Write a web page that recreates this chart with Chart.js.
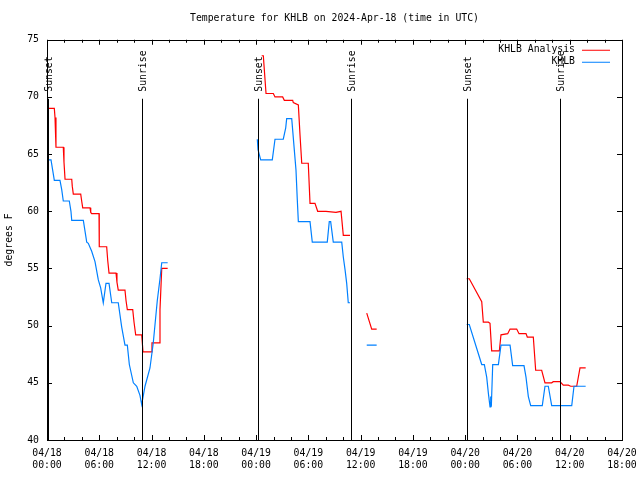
<!DOCTYPE html>
<html>
<head>
<meta charset="utf-8">
<script src="https://cdn.jsdelivr.net/npm/chart.js@4.4.1/dist/chart.umd.min.js"></script>
<style>
  html, body { margin: 0; padding: 0; background: #fff; }
  #wrap { width: 640px; height: 480px; }
</style>
</head>
<body>
<div id="wrap"><canvas id="chart"></canvas></div>
<script>
const FONT = "'DejaVu Sans Mono', 'Liberation Mono', monospace";
const FONT_SIZE = 9.8;

// hours since 04/18 00:00 UTC, null temp = gap in the record
const analysisHours = [0.15, 0.84, 0.92, 1.03, 1.87, 1.95, 2.07, 2.84, 2.90, 3.02, 3.87, 3.98, 4.10, 4.94, 5.02, 5.13, 5.97, 6.00, 6.85, 6.97,
  7.12, 7.92, 8.03, 8.18, 8.95, 9.07, 9.22, 9.84, 9.99, 10.18, 10.87, 10.94, 11.02, 11.94, 12.05, 12.20, 12.89, 12.97, 13.17, 13.85,
  14.0,
  24.64, 24.83, 25.14, 25.98, 26.17, 27.05, 27.24, 28.20, 28.27, 28.85, 29.04, 29.24, 29.99, 30.19, 30.76, 31.07, 32.02, 33.17, 33.75, 34.01, 34.78,
  35.5,
  36.70, 37.27, 37.84,
  40.0,
  48.17, 48.47, 49.90, 50.08, 50.66, 50.85, 51.04, 51.92, 52.11, 52.88, 53.15, 53.91, 54.18, 54.98, 55.13, 55.82, 56.09, 56.78, 57.16, 57.93,
  58.11, 58.88, 59.26, 59.84, 60.11, 60.80, 61.18, 61.83];
const analysisTemps = [69.0, 69.0, 68.2, 65.6, 65.6, 64.3, 62.8, 62.8, 62.2, 61.5, 61.5, 60.9, 60.3, 60.3, 59.9, 59.8, 59.8, 56.9, 56.9, 55.7,
  54.6, 54.6, 53.8, 53.1, 53.1, 52.2, 51.4, 51.4, 50.3, 49.2, 49.2, 48.5, 47.7, 47.7, 48.5, 48.5, 48.5, 51.4, 55.0, 55.0,
  null,
  73.6, 73.6, 70.3, 70.3, 70.0, 70.0, 69.7, 69.7, 69.5, 69.3, 66.7, 64.2, 64.2, 60.7, 60.7, 60.0, 60.0, 59.9, 60.0, 57.9, 57.9,
  null,
  51.1, 49.7, 49.7,
  null,
  54.1, 54.1, 52.1, 50.3, 50.3, 50.2, 47.8, 47.8, 49.2, 49.3, 49.7, 49.7, 49.3, 49.3, 49.0, 49.0, 46.1, 46.1, 45.0, 45.0,
  45.1, 45.1, 44.8, 44.8, 44.7, 44.7, 46.3, 46.3];

const obsHours = [0.15, 0.46, 0.65, 0.84, 1.49, 1.69, 1.87, 2.56, 2.75, 2.84, 4.17, 4.56, 4.74, 5.13, 5.51, 5.89, 6.16, 6.46, 6.77, 7.12,
  7.43, 8.18, 8.57, 8.95, 9.22, 9.45, 9.91, 10.30, 10.67, 10.87, 11.25, 11.82, 12.20, 12.66, 12.97, 13.17, 13.85,
  14.0,
  24.14, 24.22, 24.53, 25.86, 26.17, 27.12, 27.40, 27.51, 28.09, 28.35, 28.58, 28.73, 28.85, 30.19, 30.45, 32.17, 32.40, 32.56, 32.86, 33.83,
  34.01, 34.21, 34.40, 34.58, 34.78,
  35.5,
  36.70, 37.84,
  40.0,
  48.17, 48.47, 49.90, 50.20, 50.47, 50.66, 50.85, 50.93, 51.00, 51.16, 51.81, 52.11, 53.15, 53.45, 54.75, 54.98, 55.25, 55.52, 56.85, 57.16,
  57.54, 57.93, 60.23, 60.49, 61.83];
const obsTemps = [64.5, 64.5, 63.6, 62.7, 62.7, 61.9, 60.9, 60.9, 60.0, 59.2, 59.2, 57.3, 57.2, 56.5, 55.6, 54.0, 53.3, 52.0, 53.7, 53.7,
  52.0, 52.0, 49.9, 48.3, 48.3, 46.6, 45.0, 44.7, 43.9, 43.1, 44.7, 46.3, 48.5, 52.2, 54.1, 55.5, 55.5,
  null,
  66.3, 65.4, 64.5, 64.5, 66.3, 66.3, 67.3, 68.1, 68.1, 65.7, 63.6, 61.0, 59.1, 59.1, 57.3, 57.3, 59.1, 59.1, 57.3, 57.3,
  56.0, 54.9, 53.7, 52.0, 52.0,
  null,
  48.3, 48.3,
  null,
  50.1, 50.1, 46.6, 46.6, 45.5, 44.1, 42.9, 43.8, 42.9, 46.6, 46.6, 48.3, 48.3, 46.5, 46.5, 45.5, 43.8, 43.0, 43.0, 44.7,
  44.7, 43.0, 43.0, 44.7, 44.7];

const sunHours = [0.17, 10.90, 24.22, 34.89, 48.22, 58.88];
const sunLabels = ['Sunset', 'Sunrise', 'Sunset', 'Sunrise', 'Sunset', 'Sunrise'];

const xTickDays = ['04/18', '04/18', '04/18', '04/18', '04/19', '04/19', '04/19', '04/19', '04/20', '04/20', '04/20', '04/20'];
const xTickTimes = ['00:00', '06:00', '12:00', '18:00', '00:00', '06:00', '12:00', '18:00', '00:00', '06:00', '12:00', '18:00'];

const seriesNames = ['KHLB Analysis', 'KHLB'];
const seriesColors = ['#ff0000', '#0080ff'];

function toPoints(hours, temps) {
  return hours.map((h, i) => ({ x: h, y: temps[i] }));
}

// frame, inward tics, sunrise/sunset markers and the legend, gnuplot style
const gnuplotDecor = {
  id: 'gnuplotDecor',
  afterDatasetsDraw(chart) {
    const { ctx, chartArea: a, scales: { x, y } } = chart;
    ctx.save();
    ctx.strokeStyle = '#000';
    ctx.lineWidth = 1;

    ctx.font = `${FONT_SIZE}px ${FONT}`;
    ctx.fillStyle = '#000';
    sunHours.forEach((h, i) => {
      const px = Math.round(x.getPixelForValue(h)) + 0.5;
      ctx.beginPath();
      ctx.moveTo(px, a.top + 59);
      ctx.lineTo(px, a.bottom);
      ctx.stroke();
      ctx.save();
      ctx.translate(px + 1, a.top + 52);
      ctx.rotate(-Math.PI / 2);
      ctx.textAlign = 'left';
      ctx.textBaseline = 'middle';
      ctx.fillText(sunLabels[i], 0, 0);
      ctx.restore();
    });

    ctx.strokeRect(Math.round(a.left) + 0.5, Math.round(a.top) + 0.5,
      Math.round(a.right - a.left), Math.round(a.bottom - a.top));

    ctx.beginPath();
    for (let h = x.min; h <= x.max; h += 2) {
      const px = Math.round(x.getPixelForValue(h)) + 0.5;
      const len = h % 6 === 0 ? 5 : 3;
      ctx.moveTo(px, a.bottom);
      ctx.lineTo(px, a.bottom - len);
      ctx.moveTo(px, a.top);
      ctx.lineTo(px, a.top + len);
    }
    for (let v = y.min; v <= y.max; v += 5) {
      const py = Math.round(y.getPixelForValue(v)) + 0.5;
      ctx.moveTo(a.left, py);
      ctx.lineTo(a.left + 5, py);
      ctx.moveTo(a.right, py);
      ctx.lineTo(a.right - 5, py);
    }
    ctx.stroke();

    ctx.textAlign = 'right';
    ctx.textBaseline = 'middle';
    seriesNames.forEach((name, i) => {
      const ly = a.top + 10 + i * 12;
      ctx.fillStyle = '#000';
      ctx.fillText(name, a.right - 47, ly);
      ctx.strokeStyle = seriesColors[i];
      ctx.beginPath();
      ctx.moveTo(a.right - 40, ly + 0.5);
      ctx.lineTo(a.right - 12, ly + 0.5);
      ctx.stroke();
    });
    ctx.restore();
  }
};

new Chart(document.getElementById('chart'), {
  type: 'line',
  data: {
    datasets: [
      {
        label: seriesNames[0],
        data: toPoints(analysisHours, analysisTemps),
        borderColor: seriesColors[0],
        borderWidth: 1.2,
        pointRadius: 0,
        spanGaps: false,
        tension: 0,
        order: 2
      },
      {
        label: seriesNames[1],
        data: toPoints(obsHours, obsTemps),
        borderColor: seriesColors[1],
        borderWidth: 1.2,
        pointRadius: 0,
        spanGaps: false,
        tension: 0,
        order: 1
      }
    ]
  },
  options: {
    responsive: true,
    maintainAspectRatio: false,
    animation: false,
    layout: { padding: { left: 0, right: 18, top: 0, bottom: 0 } },
    plugins: {
      legend: { display: false },
      tooltip: { enabled: false },
      title: {
        display: true,
        text: 'Temperature for KHLB on 2024-Apr-18 (time in UTC)',
        color: '#000',
        fullSize: false,
        font: { family: FONT, size: FONT_SIZE, weight: 'normal' },
        padding: { top: 13, bottom: 15 }
      }
    },
    scales: {
      x: {
        type: 'linear',
        min: 0,
        max: 66,
        afterFit(scale) {
          scale.height = 40;
          scale.paddingLeft = 0;
          scale.paddingRight = 0;
        },
        grid: { display: false, drawTicks: false },
        border: { display: false },
        ticks: {
          stepSize: 6,
          autoSkip: false,
          maxRotation: 0,
          padding: 8,
          color: '#000',
          font: { family: FONT, size: FONT_SIZE },
          callback: (value, index) => [xTickDays[index], xTickTimes[index]]
        }
      },
      y: {
        min: 40,
        max: 75,
        afterFit(scale) { scale.width = 47; },
        grid: { display: false, drawTicks: false },
        border: { display: false },
        title: {
          display: true,
          text: 'degrees F',
          color: '#000',
          font: { family: FONT, size: FONT_SIZE },
          padding: { top: 4, bottom: 0 }
        },
        ticks: {
          stepSize: 5,
          padding: 8,
          color: '#000',
          font: { family: FONT, size: FONT_SIZE },
          callback: value => String(value)
        }
      }
    }
  },
  plugins: [gnuplotDecor]
});
</script>
</body>
</html>
